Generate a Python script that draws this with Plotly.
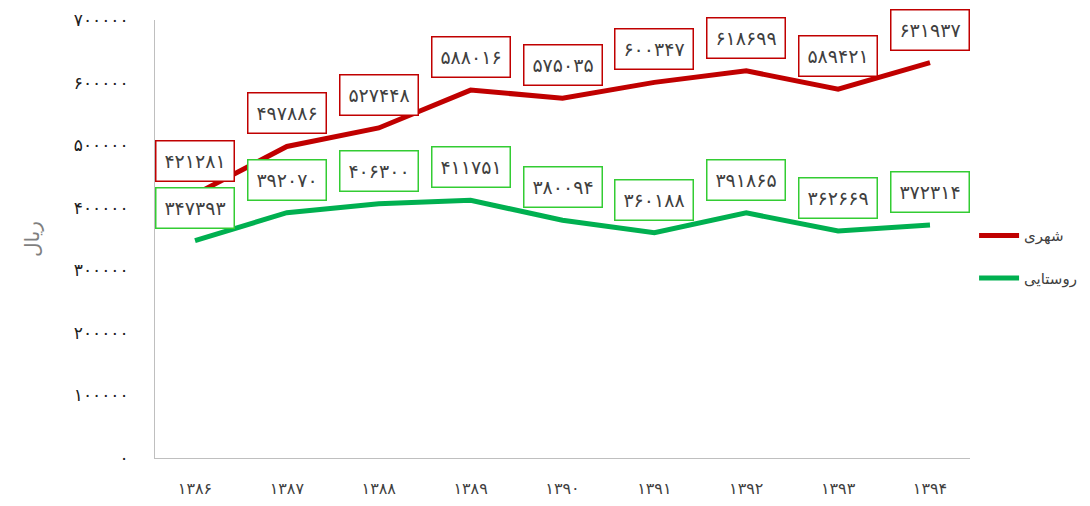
import plotly.graph_objects as go

years = [1386, 1387, 1388, 1389, 1390, 1391, 1392, 1393, 1394]
urban = [421281, 497886, 527448, 588016, 575035, 600347, 618699, 589421, 631937]
rural = [347393, 392070, 406300, 411751, 380094, 360188, 391865, 362669, 372314]
y_ticks = [0, 100000, 200000, 300000, 400000, 500000, 600000, 700000]
urban_name = "شهری"
rural_name = "روستایی"
y_title = "ریال"

FA = "۰۱۲۳۴۵۶۷۸۹"
def fa(n):
    return "".join(FA[int(c)] if c.isdigit() else c for c in str(n))

cats = [fa(y) for y in years]
FONT = "DejaVu Sans"
RED = "#C00000"
GREEN = "#00B050"
LBL_GREEN = "#33CC33"

fig = go.Figure()
fig.add_trace(go.Scatter(x=cats, y=urban, mode="lines", name=urban_name,
                         legendgroup="u", line=dict(color=RED, width=5)))
fig.add_trace(go.Scatter(x=cats, y=rural, mode="lines", name=rural_name,
                         legendgroup="r", line=dict(color=GREEN, width=5)))

for vals, col in ((urban, RED), (rural, LBL_GREEN)):
    for c, v in zip(cats, vals):
        fig.add_annotation(x=c, y=v, text=fa(v), showarrow=False, yshift=33,
                           font=dict(family=FONT, size=19, color="#404040"),
                           bordercolor=col, borderwidth=1.5, borderpad=2,
                           width=73, height=35, bgcolor="white")

fig.update_layout(
    width=1074, height=490,
    margin=dict(l=147, r=112, t=12, b=40, autoexpand=False),
    plot_bgcolor="white", paper_bgcolor="white",
    font=dict(family=FONT, color="#404040"),
    showlegend=True,
    legend=dict(x=1.005, y=0.545, yanchor="top", xanchor="left",
                font=dict(family=FONT, size=15, color="#404040"),
                traceorder="grouped", tracegroupgap=20, itemwidth=40),
    xaxis=dict(showgrid=False, showline=True, linecolor="#BFBFBF", linewidth=1,
               ticks="", tickfont=dict(family=FONT, size=16, color="#404040"),
               ticklabelstandoff=16, automargin=False),
    yaxis=dict(range=[0, 700000], tickvals=y_ticks, ticktext=[fa(t) for t in y_ticks],
               showgrid=False, showline=True, linecolor="#BFBFBF", linewidth=1,
               zeroline=False, ticks="", automargin=False,
               tickfont=dict(family=FONT, size=17, color="#202020"),
               ticklabelstandoff=22,
               title=dict(text=y_title, font=dict(family=FONT, size=20, color="#7F7F7F"),
                          standoff=28)),
)
fig.write_html("out.html")
